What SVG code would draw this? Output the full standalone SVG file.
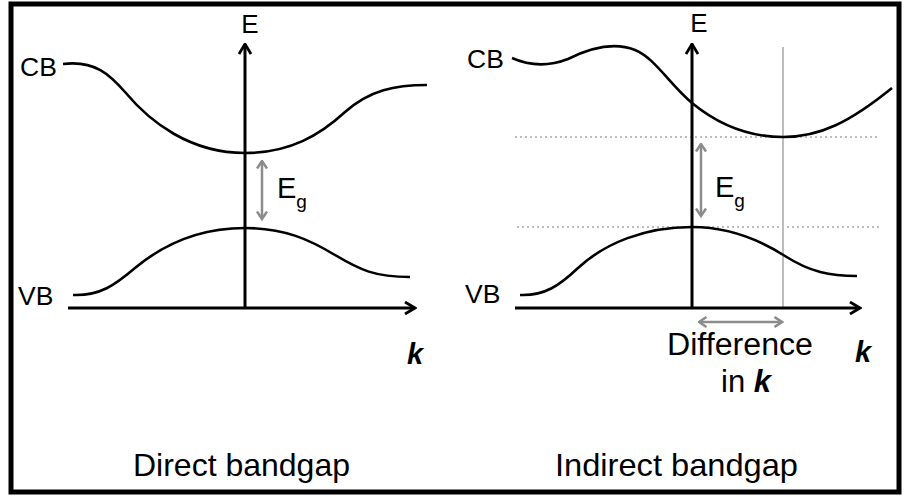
<svg xmlns="http://www.w3.org/2000/svg" width="904" height="497" viewBox="0 0 904 497">
<style>
.t{font-family:"Liberation Sans",Arial,sans-serif;fill:#000}
.band{fill:none;stroke:#000;stroke-width:2.6}
.axis{fill:none;stroke:#000;stroke-width:3}
.garr{fill:none;stroke:#8c8c8c;stroke-width:2.5}
.dot{fill:none;stroke:#bdbdbd;stroke-width:2;stroke-dasharray:2 3}
.kk{font-weight:bold;font-style:italic}
</style>
<defs>
<marker id="ah" viewBox="0 0 13 14" refX="11.5" refY="7" markerWidth="13" markerHeight="14" orient="auto-start-reverse" markerUnits="userSpaceOnUse">
<path d="M1.5,1 L11.5,7 L1.5,13" fill="none" stroke="#000" stroke-width="2.8"/>
</marker>
<marker id="gh" viewBox="0 0 10 12" refX="8.5" refY="6" markerWidth="10" markerHeight="12" orient="auto-start-reverse" markerUnits="userSpaceOnUse">
<path d="M1,1 L8.5,6 L1,11" fill="none" stroke="#8c8c8c" stroke-width="2.5"/>
</marker>
</defs>
<rect x="0" y="0" width="904" height="497" fill="#fff"/>
<rect id="frame" x="11" y="4" width="888" height="488" fill="none" stroke="#000" stroke-width="5"/>

<g id="direct">
<g id="d-cb"><path class="band" d="M63,64 C95,60 110,75 125,92 C150,122 190,153 245,153 C290,153 320,135 345,112 C370,90 395,85 427,85"/><text class="t" x="20" y="76" font-size="26.5">CB</text></g>
<g id="d-vb"><path class="band" d="M73,295 C100,296 115,285 135,268 C165,243 200,228 245,228 C285,228 310,240 335,255 C360,270 375,277 410,277"/><text class="t" x="18" y="305" font-size="26.5">VB</text></g>
<g id="d-eg"><text class="t" x="277" y="198" font-size="29">E<tspan font-size="19" dy="10">g</tspan></text></g>
<text id="d-E" class="t" x="250" y="33" font-size="26" text-anchor="middle">E</text>
<text id="d-k" class="t kk" x="407" y="364" font-size="29">k</text>
<text id="d-title" class="t" x="133" y="476" font-size="32" textLength="217" lengthAdjust="spacingAndGlyphs">Direct bandgap</text>
</g>

<g id="indirect">
<line class="dot" x1="515" y1="137" x2="880" y2="137"/>
<line class="dot" x1="517" y1="227" x2="882" y2="227"/>
<line id="i-kline" x1="783" y1="47" x2="783" y2="308" stroke="#bdbdbd" stroke-width="2"/>
<g id="i-cb"><path class="band" d="M512,58 C530,66 550,66 568,59 C590,48 615,42 635,50 C655,58 670,85 692,103 C720,126 750,137 783,137 C820,137 850,122 892,88"/><text class="t" x="467" y="68" font-size="26.5">CB</text></g>
<g id="i-vb"><path class="band" d="M520,295 C545,296 560,285 578,268 C605,243 645,227 692,227 C730,227 760,240 785,256 C810,272 830,276 857,276"/><text class="t" x="465" y="303" font-size="26.5">VB</text></g>
<g id="i-eg"><text class="t" x="715" y="197" font-size="29">E<tspan font-size="19" dy="10">g</tspan></text></g>
<text id="i-E" class="t" x="699" y="32" font-size="26" text-anchor="middle">E</text>
<text id="i-k" class="t kk" x="855" y="362" font-size="29">k</text>
<g id="i-diff"><text class="t" x="740" y="355" font-size="31" text-anchor="middle" textLength="146" lengthAdjust="spacingAndGlyphs">Difference</text>
<text class="t" x="746" y="392" font-size="31" text-anchor="middle">in <tspan class="kk">k</tspan></text></g>
<text id="i-title" class="t" x="555" y="476" font-size="32" textLength="243" lengthAdjust="spacingAndGlyphs">Indirect bandgap</text>
</g>

<g id="connectors">
<line class="axis" x1="245" y1="308" x2="245" y2="44" marker-end="url(#ah)"/>
<line class="axis" x1="68" y1="308" x2="415" y2="308" marker-end="url(#ah)"/>
<line class="axis" x1="692" y1="308" x2="692" y2="44" marker-end="url(#ah)"/>
<line class="axis" x1="515" y1="308" x2="860" y2="308" marker-end="url(#ah)"/>
<line class="garr" x1="262" y1="161" x2="262" y2="219" marker-start="url(#gh)" marker-end="url(#gh)"/>
<line class="garr" x1="701" y1="144" x2="701" y2="216" marker-start="url(#gh)" marker-end="url(#gh)"/>
<line class="garr" x1="699" y1="322" x2="782" y2="322" marker-start="url(#gh)" marker-end="url(#gh)"/>
</g>
</svg>
